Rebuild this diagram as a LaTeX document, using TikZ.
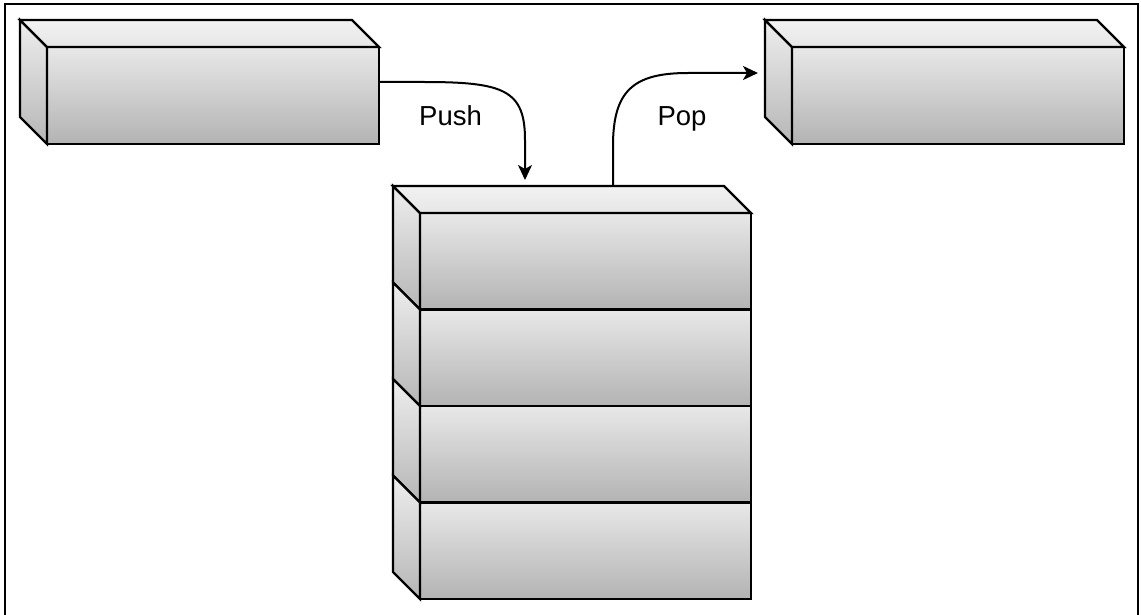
\documentclass[tikz,border=0pt]{standalone}
\usepackage{fontspec}
\setmainfont{Liberation Sans}
\usetikzlibrary{arrows.meta,calc}
\definecolor{frontTop}{HTML}{E8E8E8}
\definecolor{frontBot}{HTML}{B3B3B3}
\definecolor{topTop}{HTML}{F2F2F2}
\definecolor{topBot}{HTML}{E6E6E6}
\definecolor{sideTop}{HTML}{EEEEEE}
\definecolor{sideBot}{HTML}{B6B6B6}
\tikzset{
  front/.style={draw=black, line width=2.2pt, top color=frontTop, bottom color=frontBot,
    rectangle, inner sep=0pt, outer sep=0pt, anchor=north west},
  sideface/.style={draw=black, line width=2.2pt, top color=sideTop, bottom color=sideBot},
  topface/.style={draw=black, line width=2.2pt, top color=topTop, bottom color=topBot},
  conn/.style={draw=black, line width=2pt, -{Stealth[length=15pt,width=14pt,inset=4pt]}},
  lbl/.style={font=\fontsize{27.5}{31}\selectfont, text=black, inner sep=0pt, anchor=base},
  frame/.style={draw=black, line width=2.6pt}
}
\begin{document}
\begin{tikzpicture}[x=1pt,y=-1pt]
\useasboundingbox (0,0) rectangle (1141,615);
\fill[white] (0,0) rectangle (1141,615);
\draw[frame] (5,616) -- (5,4) -- (1138,4) -- (1138,616);

% front faces
\node[front, minimum width=332pt, minimum height=97pt] (leftbox) at (47,47) {};
\node[front, minimum width=332pt, minimum height=97pt] (rightbox) at (792,47) {};
\node[front, minimum width=331pt, minimum height=96.5pt] (s1) at (420,213) {};
\node[front, minimum width=331pt, minimum height=96.5pt] (s2) at (420,309.5) {};
\node[front, minimum width=331pt, minimum height=96.5pt] (s3) at (420,406) {};
\node[front, minimum width=331pt, minimum height=96.5pt] (s4) at (420,502.5) {};

% 3D faces
\foreach \n in {leftbox,rightbox,s1,s2,s3,s4}{
  \path[sideface] (\n.north west) -- ($(\n.north west)+(-27,-27)$) -- ($(\n.south west)+(-27,-27)$) -- (\n.south west) -- cycle;
}
\foreach \n in {leftbox,rightbox,s1}{
  \path[topface] (\n.north west) -- ($(\n.north west)+(-27,-27)$) -- ($(\n.north east)+(-27,-27)$) -- (\n.north east) -- cycle;
}

% connectors
\coordinate (pushstart) at ($(leftbox.east)+(0,-13.5)$);
\coordinate (pushend) at ($(s1.north)+(-60.5,-33)$);
\coordinate (popstart) at ($(s1.north)+(27.5,-27)$);
\coordinate (popend) at ($(rightbox.west)+(-34,-22.5)$);

\draw[conn] (pushstart) -- ++(45,0) .. controls +(80,0) and +(0,-50) .. ($(pushend)+(0,-40)$) -- (pushend);
\draw[conn] (popstart) -- ++(0,-40) .. controls +(0,-55) and +(-55,0) .. ($(popend)+(-70,0)$) -- (popend);

\node[lbl] (pushlbl) at (450.5,126) {Push};
\node[lbl] (poplbl) at (682,126) {Pop};
\end{tikzpicture}
\end{document}
